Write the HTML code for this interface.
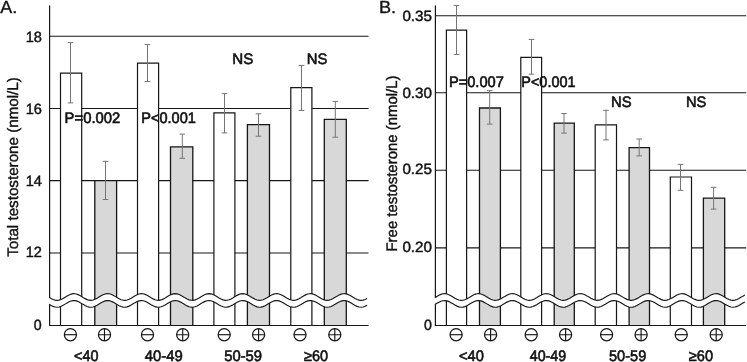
<!DOCTYPE html>
<html><head><meta charset="utf-8"><title>Figure</title>
<style>
html,body{margin:0;padding:0;background:#fff;}
svg{display:block;}
text{font-family:"Liberation Sans",Arial,Helvetica,sans-serif;font-size:15.2px;fill:#111;stroke:#111;stroke-width:0.6px;text-rendering:geometricPrecision;}
</style></head><body>
<svg width="747" height="362" viewBox="0 0 747 362">
<rect width="747" height="362" fill="#fff"/>
<g>
<line x1="49.6" y1="36.3" x2="368.5" y2="36.3" stroke="#161616" stroke-width="1.1"/>
<line x1="49.6" y1="108.5" x2="368.5" y2="108.5" stroke="#161616" stroke-width="1.1"/>
<line x1="49.6" y1="180.6" x2="368.5" y2="180.6" stroke="#161616" stroke-width="1.1"/>
<line x1="49.6" y1="253.0" x2="368.5" y2="253.0" stroke="#161616" stroke-width="1.1"/>
<path d="M60.5,325.5 V73.2 H81.7 V325.5" fill="#fff" stroke="#161616" stroke-width="1.2"/>
<path d="M94.8,325.5 V180.6 H116.6 V325.5" fill="#d8d8d8" stroke="#161616" stroke-width="1.3"/>
<path d="M137.5,325.5 V63.2 H158.6 V325.5" fill="#fff" stroke="#161616" stroke-width="1.2"/>
<path d="M170.5,325.5 V146.8 H192.8 V325.5" fill="#d8d8d8" stroke="#161616" stroke-width="1.3"/>
<path d="M213.9,325.5 V112.8 H234.9 V325.5" fill="#fff" stroke="#161616" stroke-width="1.2"/>
<path d="M247.4,325.5 V124.6 H269.5 V325.5" fill="#d8d8d8" stroke="#161616" stroke-width="1.3"/>
<path d="M290.8,325.5 V87.6 H311.9 V325.5" fill="#fff" stroke="#161616" stroke-width="1.2"/>
<path d="M324.3,325.5 V119.4 H346.3 V325.5" fill="#d8d8d8" stroke="#161616" stroke-width="1.3"/>
<path d="M70.5,42.6 V102.9 M67.7,42.6 H73.3 M67.7,102.9 H73.3" stroke="#747474" stroke-width="1" fill="none"/>
<path d="M105.5,161.3 V199.5 M102.7,161.3 H108.3 M102.7,199.5 H108.3" stroke="#747474" stroke-width="1" fill="none"/>
<path d="M147.5,44.6 V81.5 M144.7,44.6 H150.3 M144.7,81.5 H150.3" stroke="#747474" stroke-width="1" fill="none"/>
<path d="M182.3,134.1 V158.3 M179.5,134.1 H185.10000000000002 M179.5,158.3 H185.10000000000002" stroke="#747474" stroke-width="1" fill="none"/>
<path d="M224.5,93.6 V132.9 M221.7,93.6 H227.3 M221.7,132.9 H227.3" stroke="#747474" stroke-width="1" fill="none"/>
<path d="M258.5,113.8 V136.2 M255.7,113.8 H261.3 M255.7,136.2 H261.3" stroke="#747474" stroke-width="1" fill="none"/>
<path d="M301.5,65.4 V110.4 M298.7,65.4 H304.3 M298.7,110.4 H304.3" stroke="#747474" stroke-width="1" fill="none"/>
<path d="M335.3,101.4 V137.2 M332.5,101.4 H338.1 M332.5,137.2 H338.1" stroke="#747474" stroke-width="1" fill="none"/>
<path d="M48.6,297.02 L50.6,298.24 L52.6,299.28 L54.6,300.02 L56.6,300.34 L58.6,300.20 L60.6,299.63 L62.6,298.70 L64.6,297.53 L66.6,296.29 L68.6,295.15 L70.6,294.26 L72.6,293.75 L74.6,293.68 L76.6,294.06 L78.6,294.85 L80.6,295.93 L82.6,297.16 L84.6,298.36 L86.6,299.38 L88.6,300.08 L90.6,300.35 L92.6,300.16 L94.6,299.54 L96.6,298.58 L98.6,297.39 L100.6,296.16 L102.6,295.04 L104.6,294.18 L106.6,293.72 L108.6,293.70 L110.6,294.13 L112.6,294.96 L114.6,296.06 L116.6,297.30 L118.6,298.49 L120.6,299.48 L122.6,300.13 L124.6,300.35 L126.6,300.11 L128.6,299.45 L130.6,298.45 L132.6,297.26 L134.6,296.03 L136.6,294.93 L138.6,294.11 L140.6,293.69 L142.6,293.73 L144.6,294.21 L146.6,295.07 L148.6,296.19 L150.6,297.43 L152.6,298.61 L154.6,299.57 L156.6,300.17 L158.6,300.35 L160.6,300.06 L162.6,299.36 L164.6,298.33 L166.6,297.12 L168.6,295.90 L170.6,294.82 L172.6,294.05 L174.6,293.67 L176.6,293.76 L178.6,294.28 L180.6,295.18 L182.6,296.33 L184.6,297.57 L186.6,298.73 L188.6,299.65 L190.6,300.22 L192.6,300.34 L194.6,300.00 L196.6,299.26 L198.6,298.20 L200.6,296.98 L202.6,295.77 L204.6,294.72 L206.6,293.98 L208.6,293.66 L210.6,293.79 L212.6,294.37 L214.6,295.30 L216.6,296.46 L218.6,297.70 L220.6,298.84 L222.6,299.73 L224.6,300.25 L226.6,300.32 L228.6,299.94 L230.6,299.15 L232.6,298.07 L234.6,296.85 L236.6,295.64 L238.6,294.62 L240.6,293.93 L242.6,293.65 L244.6,293.84 L246.6,294.45 L248.6,295.42 L250.6,296.60 L252.6,297.84 L254.6,298.96 L256.6,299.81 L258.6,300.28 L260.6,300.30 L262.6,299.87 L264.6,299.05 L266.6,297.94 L268.6,296.71 L270.6,295.52 L272.6,294.53 L274.6,293.87 L276.6,293.65 L278.6,293.88 L280.6,294.54 L282.6,295.54 L284.6,296.74 L286.6,297.97 L288.6,299.07 L290.6,299.88 L292.6,300.31 L294.6,300.28 L296.6,299.80 L298.6,298.94 L300.6,297.81 L302.6,296.57 L304.6,295.40 L306.6,294.44 L308.6,293.83 L310.6,293.65 L312.6,293.94 L314.6,294.64 L316.6,295.66 L318.6,296.87 L320.6,298.10 L322.6,299.17 L324.6,299.95 L326.6,300.33 L328.6,300.24 L330.6,299.72 L332.6,298.82 L334.6,297.68 L336.6,296.44 L338.6,295.28 L340.6,294.35 L342.6,293.79 L344.6,293.66 L346.6,293.99 L348.6,294.74 L350.6,295.79 L352.6,297.01 L354.6,298.23 L356.6,299.28 L358.6,300.01 L360.6,300.34 L362.6,300.21 L364.6,299.64 L366.6,298.71 L368.6,297.54 L368.6,304.44 L366.6,305.61 L364.6,306.54 L362.6,307.11 L360.6,307.24 L358.6,306.91 L356.6,306.18 L354.6,305.13 L352.6,303.91 L350.6,302.69 L348.6,301.64 L346.6,300.89 L344.6,300.56 L342.6,300.69 L340.6,301.25 L338.6,302.18 L336.6,303.34 L334.6,304.58 L332.6,305.72 L330.6,306.62 L328.6,307.14 L326.6,307.23 L324.6,306.85 L322.6,306.07 L320.6,305.00 L318.6,303.77 L316.6,302.56 L314.6,301.54 L312.6,300.84 L310.6,300.55 L308.6,300.73 L306.6,301.34 L304.6,302.30 L302.6,303.47 L300.6,304.71 L298.6,305.84 L296.6,306.70 L294.6,307.18 L292.6,307.21 L290.6,306.78 L288.6,305.97 L286.6,304.87 L284.6,303.64 L282.6,302.44 L280.6,301.44 L278.6,300.78 L276.6,300.55 L274.6,300.77 L272.6,301.43 L270.6,302.42 L268.6,303.61 L266.6,304.84 L264.6,305.95 L262.6,306.77 L260.6,307.20 L258.6,307.18 L256.6,306.71 L254.6,305.86 L252.6,304.74 L250.6,303.50 L248.6,302.32 L246.6,301.35 L244.6,300.74 L242.6,300.55 L240.6,300.83 L238.6,301.52 L236.6,302.54 L234.6,303.75 L232.6,304.97 L230.6,306.05 L228.6,306.84 L226.6,307.22 L224.6,307.15 L222.6,306.63 L220.6,305.74 L218.6,304.60 L216.6,303.36 L214.6,302.20 L212.6,301.27 L210.6,300.69 L208.6,300.56 L206.6,300.88 L204.6,301.62 L202.6,302.67 L200.6,303.88 L198.6,305.10 L196.6,306.16 L194.6,306.90 L192.6,307.24 L190.6,307.12 L188.6,306.55 L186.6,305.63 L184.6,304.47 L182.6,303.23 L180.6,302.08 L178.6,301.18 L176.6,300.66 L174.6,300.57 L172.6,300.95 L170.6,301.72 L168.6,302.80 L166.6,304.02 L164.6,305.23 L162.6,306.26 L160.6,306.96 L158.6,307.25 L156.6,307.07 L154.6,306.47 L152.6,305.51 L150.6,304.33 L148.6,303.09 L146.6,301.97 L144.6,301.11 L142.6,300.63 L140.6,300.59 L138.6,301.01 L136.6,301.83 L134.6,302.93 L132.6,304.16 L130.6,305.35 L128.6,306.35 L126.6,307.01 L124.6,307.25 L122.6,307.03 L120.6,306.38 L118.6,305.39 L116.6,304.20 L114.6,302.96 L112.6,301.86 L110.6,301.03 L108.6,300.60 L106.6,300.62 L104.6,301.08 L102.6,301.94 L100.6,303.06 L98.6,304.29 L96.6,305.48 L94.6,306.44 L92.6,307.06 L90.6,307.25 L88.6,306.98 L86.6,306.28 L84.6,305.26 L82.6,304.06 L80.6,302.83 L78.6,301.75 L76.6,300.96 L74.6,300.58 L72.6,300.65 L70.6,301.16 L68.6,302.05 L66.6,303.19 L64.6,304.43 L62.6,305.60 L60.6,306.53 L58.6,307.10 L56.6,307.24 L54.6,306.92 L52.6,306.18 L50.6,305.14 L48.6,303.92Z" fill="#fff" stroke="none"/>
<path d="M49.1,297.33 L51.1,298.52 L53.1,299.50 L55.1,300.14 L57.1,300.35 L59.1,300.10 L61.1,299.43 L63.1,298.42 L65.1,297.22 L67.1,295.99 L69.1,294.90 L71.1,294.09 L73.1,293.69 L75.1,293.73 L77.1,294.23 L79.1,295.10 L81.1,296.23 L83.1,297.47 L85.1,298.64 L87.1,299.59 L89.1,300.19 L91.1,300.34 L93.1,300.05 L95.1,299.33 L97.1,298.30 L99.1,297.08 L101.1,295.86 L103.1,294.79 L105.1,294.03 L107.1,293.67 L109.1,293.77 L111.1,294.31 L113.1,295.21 L115.1,296.37 L117.1,297.60 L119.1,298.76 L121.1,299.68 L123.1,300.23 L125.1,300.33 L127.1,299.99 L129.1,299.23 L131.1,298.17 L133.1,296.95 L135.1,295.73 L137.1,294.69 L139.1,293.97 L141.1,293.66 L143.1,293.80 L145.1,294.39 L147.1,295.33 L149.1,296.50 L151.1,297.74 L153.1,298.88 L155.1,299.76 L157.1,300.26 L159.1,300.32 L161.1,299.92 L163.1,299.13 L165.1,298.04 L167.1,296.81 L169.1,295.61 L171.1,294.60 L173.1,293.91 L175.1,293.65 L177.1,293.85 L179.1,294.48 L181.1,295.45 L183.1,296.64 L185.1,297.87 L187.1,298.99 L189.1,299.83 L191.1,300.29 L193.1,300.30 L195.1,299.85 L197.1,299.02 L199.1,297.91 L201.1,296.67 L203.1,295.48 L205.1,294.50 L207.1,293.86 L209.1,293.65 L211.1,293.90 L213.1,294.57 L215.1,295.57 L217.1,296.77 L219.1,298.00 L221.1,299.10 L223.1,299.90 L225.1,300.31 L227.1,300.27 L229.1,299.78 L231.1,298.91 L233.1,297.77 L235.1,296.54 L237.1,295.36 L239.1,294.41 L241.1,293.82 L243.1,293.66 L245.1,293.95 L247.1,294.67 L249.1,295.70 L251.1,296.91 L253.1,298.13 L255.1,299.20 L257.1,299.97 L259.1,300.33 L261.1,300.24 L263.1,299.70 L265.1,298.79 L267.1,297.64 L269.1,296.40 L271.1,295.24 L273.1,294.33 L275.1,293.78 L277.1,293.67 L279.1,294.01 L281.1,294.77 L283.1,295.83 L285.1,297.05 L287.1,298.26 L289.1,299.30 L291.1,300.03 L293.1,300.34 L295.1,300.20 L297.1,299.61 L299.1,298.68 L301.1,297.51 L303.1,296.27 L305.1,295.13 L307.1,294.25 L309.1,293.74 L311.1,293.68 L313.1,294.08 L315.1,294.87 L317.1,295.96 L319.1,297.18 L321.1,298.39 L323.1,299.40 L325.1,300.09 L327.1,300.35 L329.1,300.15 L331.1,299.53 L333.1,298.55 L335.1,297.37 L337.1,296.13 L339.1,295.02 L341.1,294.17 L343.1,293.71 L345.1,293.70 L347.1,294.15 L349.1,294.98 L351.1,296.09 L353.1,297.32 L355.1,298.51 L357.1,299.49 L359.1,300.14 L361.1,300.35 L363.1,300.10 L365.1,299.44 L367.1,298.43" fill="none" stroke="#161616" stroke-width="1.15"/>
<path d="M49.1,304.23 L51.1,305.42 L53.1,306.40 L55.1,307.04 L57.1,307.25 L59.1,307.00 L61.1,306.33 L63.1,305.32 L65.1,304.12 L67.1,302.89 L69.1,301.80 L71.1,300.99 L73.1,300.59 L75.1,300.63 L77.1,301.13 L79.1,302.00 L81.1,303.13 L83.1,304.37 L85.1,305.54 L87.1,306.49 L89.1,307.09 L91.1,307.24 L93.1,306.95 L95.1,306.23 L97.1,305.20 L99.1,303.98 L101.1,302.76 L103.1,301.69 L105.1,300.93 L107.1,300.57 L109.1,300.67 L111.1,301.21 L113.1,302.11 L115.1,303.27 L117.1,304.50 L119.1,305.66 L121.1,306.58 L123.1,307.13 L125.1,307.23 L127.1,306.89 L129.1,306.13 L131.1,305.07 L133.1,303.85 L135.1,302.63 L137.1,301.59 L139.1,300.87 L141.1,300.56 L143.1,300.70 L145.1,301.29 L147.1,302.23 L149.1,303.40 L151.1,304.64 L153.1,305.78 L155.1,306.66 L157.1,307.16 L159.1,307.22 L161.1,306.82 L163.1,306.03 L165.1,304.94 L167.1,303.71 L169.1,302.51 L171.1,301.50 L173.1,300.81 L175.1,300.55 L177.1,300.75 L179.1,301.38 L181.1,302.35 L183.1,303.54 L185.1,304.77 L187.1,305.89 L189.1,306.73 L191.1,307.19 L193.1,307.20 L195.1,306.75 L197.1,305.92 L199.1,304.81 L201.1,303.57 L203.1,302.38 L205.1,301.40 L207.1,300.76 L209.1,300.55 L211.1,300.80 L213.1,301.47 L215.1,302.47 L217.1,303.67 L219.1,304.90 L221.1,306.00 L223.1,306.80 L225.1,307.21 L227.1,307.17 L229.1,306.68 L231.1,305.81 L233.1,304.67 L235.1,303.44 L237.1,302.26 L239.1,301.31 L241.1,300.72 L243.1,300.56 L245.1,300.85 L247.1,301.57 L249.1,302.60 L251.1,303.81 L253.1,305.03 L255.1,306.10 L257.1,306.87 L259.1,307.23 L261.1,307.14 L263.1,306.60 L265.1,305.69 L267.1,304.54 L269.1,303.30 L271.1,302.14 L273.1,301.23 L275.1,300.68 L277.1,300.57 L279.1,300.91 L281.1,301.67 L283.1,302.73 L285.1,303.95 L287.1,305.16 L289.1,306.20 L291.1,306.93 L293.1,307.24 L295.1,307.10 L297.1,306.51 L299.1,305.57 L301.1,304.41 L303.1,303.17 L305.1,302.03 L307.1,301.15 L309.1,300.64 L311.1,300.58 L313.1,300.98 L315.1,301.77 L317.1,302.86 L319.1,304.08 L321.1,305.29 L323.1,306.30 L325.1,306.99 L327.1,307.25 L329.1,307.05 L331.1,306.43 L333.1,305.45 L335.1,304.27 L337.1,303.03 L339.1,301.92 L341.1,301.07 L343.1,300.61 L345.1,300.60 L347.1,301.05 L349.1,301.88 L351.1,302.99 L353.1,304.22 L355.1,305.41 L357.1,306.39 L359.1,307.04 L361.1,307.25 L363.1,307.00 L365.1,306.34 L367.1,305.33" fill="none" stroke="#161616" stroke-width="1.15"/>
<path d="M49.6,5.5 V297.64 M49.6,304.54 V325.5" stroke="#161616" stroke-width="1.2" fill="none"/>
<line x1="49.1" y1="325.5" x2="368.5" y2="325.5" stroke="#161616" stroke-width="1"/>
<text x="0.3" y="12.7" style="font-size:17.4px;stroke-width:0.35px" textLength="16.9" lengthAdjust="spacingAndGlyphs">A.</text>
<text x="64.6" y="123.3" textLength="55.8" lengthAdjust="spacingAndGlyphs">P=0.002</text>
<text x="141.3" y="123.3" textLength="54.6" lengthAdjust="spacingAndGlyphs">P&lt;0.001</text>
<text x="232.3" y="63.5" textLength="21.0" lengthAdjust="spacingAndGlyphs">NS</text>
<text x="306.8" y="63.5" textLength="20.6" lengthAdjust="spacingAndGlyphs">NS</text>
<text x="74.1" y="361.1" textLength="24.4" lengthAdjust="spacingAndGlyphs">&lt;40</text>
<text x="144.7" y="361.1" textLength="38.0" lengthAdjust="spacingAndGlyphs">40-49</text>
<text x="224.2" y="361.1" textLength="37.9" lengthAdjust="spacingAndGlyphs">50-59</text>
<text x="304.1" y="361.1" textLength="24.1" lengthAdjust="spacingAndGlyphs">≥60</text>
<text x="25.7" y="42.4" style="font-size:14.9px;stroke-width:0.45px" textLength="16.2" lengthAdjust="spacingAndGlyphs">18</text>
<text x="25.7" y="114.1" style="font-size:14.9px;stroke-width:0.45px" textLength="16.2" lengthAdjust="spacingAndGlyphs">16</text>
<text x="25.7" y="185.5" style="font-size:14.9px;stroke-width:0.45px" textLength="16.2" lengthAdjust="spacingAndGlyphs">14</text>
<text x="25.7" y="257.3" style="font-size:14.9px;stroke-width:0.45px" textLength="16.2" lengthAdjust="spacingAndGlyphs">12</text>
<text x="33.7" y="329.7" style="font-size:14.9px;stroke-width:0.45px" textLength="7.9" lengthAdjust="spacingAndGlyphs">0</text>
<text transform="translate(17.5,256.8) rotate(-90)" x="0" y="0" style="stroke-width:0.4px" textLength="179.6" lengthAdjust="spacingAndGlyphs">Total testosterone (nmol/L)</text>
<circle cx="70.4" cy="334.7" r="6.05" fill="none" stroke="#161616" stroke-width="1.25"/><path d="M64.35000000000001,334.7 H76.45" stroke="#161616" stroke-width="1.15" fill="none"/>
<circle cx="104.5" cy="334.7" r="6.05" fill="none" stroke="#161616" stroke-width="1.25"/><path d="M98.45,334.7 H110.55 M104.5,328.65 V340.75" stroke="#161616" stroke-width="1.15" fill="none"/>
<circle cx="147.5" cy="334.7" r="6.05" fill="none" stroke="#161616" stroke-width="1.25"/><path d="M141.45,334.7 H153.55" stroke="#161616" stroke-width="1.15" fill="none"/>
<circle cx="182.7" cy="334.7" r="6.05" fill="none" stroke="#161616" stroke-width="1.25"/><path d="M176.64999999999998,334.7 H188.75 M182.7,328.65 V340.75" stroke="#161616" stroke-width="1.15" fill="none"/>
<circle cx="224.2" cy="334.7" r="6.05" fill="none" stroke="#161616" stroke-width="1.25"/><path d="M218.14999999999998,334.7 H230.25" stroke="#161616" stroke-width="1.15" fill="none"/>
<circle cx="258.6" cy="334.7" r="6.05" fill="none" stroke="#161616" stroke-width="1.25"/><path d="M252.55,334.7 H264.65000000000003 M258.6,328.65 V340.75" stroke="#161616" stroke-width="1.15" fill="none"/>
<circle cx="300" cy="334.7" r="6.05" fill="none" stroke="#161616" stroke-width="1.25"/><path d="M293.95,334.7 H306.05" stroke="#161616" stroke-width="1.15" fill="none"/>
<circle cx="334.8" cy="334.7" r="6.05" fill="none" stroke="#161616" stroke-width="1.25"/><path d="M328.75,334.7 H340.85 M334.8,328.65 V340.75" stroke="#161616" stroke-width="1.15" fill="none"/>
</g>
<g>
<line x1="435.4" y1="15.8" x2="746.2" y2="15.8" stroke="#161616" stroke-width="1.1"/>
<line x1="435.4" y1="92.7" x2="746.2" y2="92.7" stroke="#161616" stroke-width="1.1"/>
<line x1="435.4" y1="170.2" x2="746.2" y2="170.2" stroke="#161616" stroke-width="1.1"/>
<line x1="435.4" y1="247.9" x2="746.2" y2="247.9" stroke="#161616" stroke-width="1.1"/>
<path d="M446.4,325.5 V30.2 H466.6 V325.5" fill="#fff" stroke="#161616" stroke-width="1.2"/>
<path d="M479.5,325.5 V108.0 H500.4 V325.5" fill="#d8d8d8" stroke="#161616" stroke-width="1.3"/>
<path d="M520.8,325.5 V57.3 H541.6 V325.5" fill="#fff" stroke="#161616" stroke-width="1.2"/>
<path d="M554.2,325.5 V123.1 H574.3 V325.5" fill="#d8d8d8" stroke="#161616" stroke-width="1.3"/>
<path d="M595.2,325.5 V124.8 H616.5 V325.5" fill="#fff" stroke="#161616" stroke-width="1.2"/>
<path d="M629.1,325.5 V147.6 H649.5 V325.5" fill="#d8d8d8" stroke="#161616" stroke-width="1.3"/>
<path d="M670.3,325.5 V177.0 H691.5 V325.5" fill="#fff" stroke="#161616" stroke-width="1.2"/>
<path d="M703.4,325.5 V198.1 H724.7 V325.5" fill="#d8d8d8" stroke="#161616" stroke-width="1.3"/>
<path d="M456.5,5.5 V54.5 M453.7,5.5 H459.3 M453.7,54.5 H459.3" stroke="#747474" stroke-width="1" fill="none"/>
<path d="M489.7,90.7 V124.1 M486.9,90.7 H492.5 M486.9,124.1 H492.5" stroke="#747474" stroke-width="1" fill="none"/>
<path d="M531.5,39.4 V74.2 M528.7,39.4 H534.3 M528.7,74.2 H534.3" stroke="#747474" stroke-width="1" fill="none"/>
<path d="M564,113.5 V133.1 M561.2,113.5 H566.8 M561.2,133.1 H566.8" stroke="#747474" stroke-width="1" fill="none"/>
<path d="M606,110.3 V139.9 M603.2,110.3 H608.8 M603.2,139.9 H608.8" stroke="#747474" stroke-width="1" fill="none"/>
<path d="M639.2,139 V155.9 M636.4000000000001,139 H642.0 M636.4000000000001,155.9 H642.0" stroke="#747474" stroke-width="1" fill="none"/>
<path d="M680.5,164.4 V190.3 M677.7,164.4 H683.3 M677.7,190.3 H683.3" stroke="#747474" stroke-width="1" fill="none"/>
<path d="M713.6,187.3 V209.1 M710.8000000000001,187.3 H716.4 M710.8000000000001,209.1 H716.4" stroke="#747474" stroke-width="1" fill="none"/>
<path d="M434.4,297.99 L436.4,296.76 L438.4,295.57 L440.4,294.57 L442.4,293.90 L444.4,293.65 L446.4,293.86 L448.4,294.49 L450.4,295.46 L452.4,296.64 L454.4,297.87 L456.4,298.98 L458.4,299.82 L460.4,300.28 L462.4,300.30 L464.4,299.87 L466.4,299.05 L468.4,297.95 L470.4,296.72 L472.4,295.53 L474.4,294.54 L476.4,293.89 L478.4,293.65 L480.4,293.87 L482.4,294.51 L484.4,295.49 L486.4,296.67 L488.4,297.90 L490.4,299.01 L492.4,299.84 L494.4,300.29 L496.4,300.29 L498.4,299.85 L500.4,299.02 L502.4,297.92 L504.4,296.69 L506.4,295.50 L508.4,294.52 L510.4,293.87 L512.4,293.65 L514.4,293.88 L516.4,294.54 L518.4,295.52 L520.4,296.71 L522.4,297.94 L524.4,299.04 L526.4,299.86 L528.4,300.30 L530.4,300.29 L532.4,299.83 L534.4,298.99 L536.4,297.88 L538.4,296.65 L540.4,295.47 L542.4,294.49 L544.4,293.86 L546.4,293.65 L548.4,293.90 L550.4,294.56 L552.4,295.56 L554.4,296.75 L556.4,297.97 L558.4,299.07 L560.4,299.88 L562.4,300.30 L564.4,300.28 L566.4,299.81 L568.4,298.96 L570.4,297.84 L572.4,296.61 L574.4,295.44 L576.4,294.47 L578.4,293.85 L580.4,293.65 L582.4,293.91 L584.4,294.59 L586.4,295.59 L588.4,296.79 L590.4,298.01 L592.4,299.10 L594.4,299.90 L596.4,300.31 L598.4,300.27 L600.4,299.79 L602.4,298.93 L604.4,297.81 L606.4,296.58 L608.4,295.40 L610.4,294.45 L612.4,293.83 L614.4,293.65 L616.4,293.92 L618.4,294.61 L620.4,295.62 L622.4,296.82 L624.4,298.05 L626.4,299.13 L628.4,299.92 L630.4,300.32 L632.4,300.26 L634.4,299.77 L636.4,298.90 L638.4,297.77 L640.4,296.54 L642.4,295.37 L644.4,294.42 L646.4,293.82 L648.4,293.65 L650.4,293.94 L652.4,294.64 L654.4,295.66 L656.4,296.86 L658.4,298.08 L660.4,299.16 L662.4,299.94 L664.4,300.32 L666.4,300.25 L668.4,299.75 L670.4,298.87 L672.4,297.74 L674.4,296.50 L676.4,295.34 L678.4,294.40 L680.4,293.81 L682.4,293.66 L684.4,293.95 L686.4,294.67 L688.4,295.69 L690.4,296.90 L692.4,298.12 L694.4,299.18 L696.4,299.95 L698.4,300.33 L700.4,300.25 L702.4,299.73 L704.4,298.84 L706.4,297.70 L708.4,296.47 L710.4,295.31 L712.4,294.37 L714.4,293.80 L716.4,293.66 L718.4,293.97 L720.4,294.69 L722.4,295.73 L724.4,296.93 L726.4,298.15 L728.4,299.21 L730.4,299.97 L732.4,300.33 L734.4,300.24 L736.4,299.70 L738.4,298.81 L740.4,297.66 L742.4,296.43 L744.4,295.27 L746.4,294.35 L746.4,301.25 L744.4,302.17 L742.4,303.33 L740.4,304.56 L738.4,305.71 L736.4,306.60 L734.4,307.14 L732.4,307.23 L730.4,306.87 L728.4,306.11 L726.4,305.05 L724.4,303.83 L722.4,302.63 L720.4,301.59 L718.4,300.87 L716.4,300.56 L714.4,300.70 L712.4,301.27 L710.4,302.21 L708.4,303.37 L706.4,304.60 L704.4,305.74 L702.4,306.63 L700.4,307.15 L698.4,307.23 L696.4,306.85 L694.4,306.08 L692.4,305.02 L690.4,303.80 L688.4,302.59 L686.4,301.57 L684.4,300.85 L682.4,300.56 L680.4,300.71 L678.4,301.30 L676.4,302.24 L674.4,303.40 L672.4,304.64 L670.4,305.77 L668.4,306.65 L666.4,307.15 L664.4,307.22 L662.4,306.84 L660.4,306.06 L658.4,304.98 L656.4,303.76 L654.4,302.56 L652.4,301.54 L650.4,300.84 L648.4,300.55 L646.4,300.72 L644.4,301.32 L642.4,302.27 L640.4,303.44 L638.4,304.67 L636.4,305.80 L634.4,306.67 L632.4,307.16 L630.4,307.22 L628.4,306.82 L626.4,306.03 L624.4,304.95 L622.4,303.72 L620.4,302.52 L618.4,301.51 L616.4,300.82 L614.4,300.55 L612.4,300.73 L610.4,301.35 L608.4,302.30 L606.4,303.48 L604.4,304.71 L602.4,305.83 L600.4,306.69 L598.4,307.17 L596.4,307.21 L594.4,306.80 L592.4,306.00 L590.4,304.91 L588.4,303.69 L586.4,302.49 L584.4,301.49 L582.4,300.81 L580.4,300.55 L578.4,300.75 L576.4,301.37 L574.4,302.34 L572.4,303.51 L570.4,304.74 L568.4,305.86 L566.4,306.71 L564.4,307.18 L562.4,307.20 L560.4,306.78 L558.4,305.97 L556.4,304.87 L554.4,303.65 L552.4,302.46 L550.4,301.46 L548.4,300.80 L546.4,300.55 L544.4,300.76 L542.4,301.39 L540.4,302.37 L538.4,303.55 L536.4,304.78 L534.4,305.89 L532.4,306.73 L530.4,307.19 L528.4,307.20 L526.4,306.76 L524.4,305.94 L522.4,304.84 L520.4,303.61 L518.4,302.42 L516.4,301.44 L514.4,300.78 L512.4,300.55 L510.4,300.77 L508.4,301.42 L506.4,302.40 L504.4,303.59 L502.4,304.82 L500.4,305.92 L498.4,306.75 L496.4,307.19 L494.4,307.19 L492.4,306.74 L490.4,305.91 L488.4,304.80 L486.4,303.57 L484.4,302.39 L482.4,301.41 L480.4,300.77 L478.4,300.55 L476.4,300.79 L474.4,301.44 L472.4,302.43 L470.4,303.62 L468.4,304.85 L466.4,305.95 L464.4,306.77 L462.4,307.20 L460.4,307.18 L458.4,306.72 L456.4,305.88 L454.4,304.77 L452.4,303.54 L450.4,302.36 L448.4,301.39 L446.4,300.76 L444.4,300.55 L442.4,300.80 L440.4,301.47 L438.4,302.47 L436.4,303.66 L434.4,304.89Z" fill="#fff" stroke="none"/>
<path d="M434.9,297.69 L436.9,296.45 L438.9,295.29 L440.9,294.37 L442.9,293.80 L444.9,293.66 L446.9,293.98 L448.9,294.70 L450.9,295.74 L452.9,296.95 L454.9,298.16 L456.9,299.22 L458.9,299.98 L460.9,300.33 L462.9,300.23 L464.9,299.70 L466.9,298.80 L468.9,297.65 L470.9,296.42 L472.9,295.26 L474.9,294.34 L476.9,293.79 L478.9,293.66 L480.9,293.99 L482.9,294.73 L484.9,295.77 L486.9,296.98 L488.9,298.20 L490.9,299.25 L492.9,299.99 L494.9,300.34 L496.9,300.22 L498.9,299.67 L500.9,298.76 L502.9,297.61 L504.9,296.38 L506.9,295.23 L508.9,294.32 L510.9,293.77 L512.9,293.67 L514.9,294.01 L516.9,294.76 L518.9,295.81 L520.9,297.02 L522.9,298.23 L524.9,299.28 L526.9,300.01 L528.9,300.34 L530.9,300.21 L532.9,299.65 L534.9,298.73 L536.9,297.58 L538.9,296.34 L540.9,295.20 L542.9,294.30 L544.9,293.77 L546.9,293.67 L548.9,294.02 L550.9,294.78 L552.9,295.84 L554.9,297.06 L556.9,298.27 L558.9,299.30 L560.9,300.03 L562.9,300.34 L564.9,300.20 L566.9,299.63 L568.9,298.70 L570.9,297.54 L572.9,296.31 L574.9,295.17 L576.9,294.28 L578.9,293.76 L580.9,293.67 L582.9,294.04 L584.9,294.81 L586.9,295.88 L588.9,297.10 L590.9,298.30 L592.9,299.33 L594.9,300.04 L596.9,300.34 L598.9,300.19 L600.9,299.61 L602.9,298.67 L604.9,297.50 L606.9,296.27 L608.9,295.14 L610.9,294.26 L612.9,293.75 L614.9,293.68 L616.9,294.06 L618.9,294.84 L620.9,295.91 L622.9,297.13 L624.9,298.34 L626.9,299.36 L628.9,300.06 L630.9,300.35 L632.9,300.18 L634.9,299.58 L636.9,298.64 L638.9,297.47 L640.9,296.23 L642.9,295.11 L644.9,294.23 L646.9,293.74 L648.9,293.68 L650.9,294.08 L652.9,294.87 L654.9,295.95 L656.9,297.17 L658.9,298.37 L660.9,299.38 L662.9,300.07 L664.9,300.35 L666.9,300.17 L668.9,299.56 L670.9,298.60 L672.9,297.43 L674.9,296.20 L676.9,295.08 L678.9,294.21 L680.9,293.73 L682.9,293.69 L684.9,294.10 L686.9,294.90 L688.9,295.98 L690.9,297.21 L692.9,298.40 L694.9,299.41 L696.9,300.09 L698.9,300.35 L700.9,300.16 L702.9,299.53 L704.9,298.57 L706.9,297.39 L708.9,296.16 L710.9,295.05 L712.9,294.19 L714.9,293.72 L716.9,293.69 L718.9,294.11 L720.9,294.93 L722.9,296.02 L724.9,297.24 L726.9,298.44 L728.9,299.43 L730.9,300.10 L732.9,300.35 L734.9,300.14 L736.9,299.51 L738.9,298.54 L740.9,297.36 L742.9,296.13 L744.9,295.02" fill="none" stroke="#161616" stroke-width="1.15"/>
<path d="M434.9,304.59 L436.9,303.35 L438.9,302.19 L440.9,301.27 L442.9,300.70 L444.9,300.56 L446.9,300.88 L448.9,301.60 L450.9,302.64 L452.9,303.85 L454.9,305.06 L456.9,306.12 L458.9,306.88 L460.9,307.23 L462.9,307.13 L464.9,306.60 L466.9,305.70 L468.9,304.55 L470.9,303.32 L472.9,302.16 L474.9,301.24 L476.9,300.69 L478.9,300.56 L480.9,300.89 L482.9,301.63 L484.9,302.67 L486.9,303.88 L488.9,305.10 L490.9,306.15 L492.9,306.89 L494.9,307.24 L496.9,307.12 L498.9,306.57 L500.9,305.66 L502.9,304.51 L504.9,303.28 L506.9,302.13 L508.9,301.22 L510.9,300.67 L512.9,300.57 L514.9,300.91 L516.9,301.66 L518.9,302.71 L520.9,303.92 L522.9,305.13 L524.9,306.18 L526.9,306.91 L528.9,307.24 L530.9,307.11 L532.9,306.55 L534.9,305.63 L536.9,304.48 L538.9,303.24 L540.9,302.10 L542.9,301.20 L544.9,300.67 L546.9,300.57 L548.9,300.92 L550.9,301.68 L552.9,302.74 L554.9,303.96 L556.9,305.17 L558.9,306.20 L560.9,306.93 L562.9,307.24 L564.9,307.10 L566.9,306.53 L568.9,305.60 L570.9,304.44 L572.9,303.21 L574.9,302.07 L576.9,301.18 L578.9,300.66 L580.9,300.57 L582.9,300.94 L584.9,301.71 L586.9,302.78 L588.9,304.00 L590.9,305.20 L592.9,306.23 L594.9,306.94 L596.9,307.24 L598.9,307.09 L600.9,306.51 L602.9,305.57 L604.9,304.40 L606.9,303.17 L608.9,302.04 L610.9,301.16 L612.9,300.65 L614.9,300.58 L616.9,300.96 L618.9,301.74 L620.9,302.81 L622.9,304.03 L624.9,305.24 L626.9,306.26 L628.9,306.96 L630.9,307.25 L632.9,307.08 L634.9,306.48 L636.9,305.54 L638.9,304.37 L640.9,303.13 L642.9,302.01 L644.9,301.13 L646.9,300.64 L648.9,300.58 L650.9,300.98 L652.9,301.77 L654.9,302.85 L656.9,304.07 L658.9,305.27 L660.9,306.28 L662.9,306.97 L664.9,307.25 L666.9,307.07 L668.9,306.46 L670.9,305.50 L672.9,304.33 L674.9,303.10 L676.9,301.98 L678.9,301.11 L680.9,300.63 L682.9,300.59 L684.9,301.00 L686.9,301.80 L688.9,302.88 L690.9,304.11 L692.9,305.30 L694.9,306.31 L696.9,306.99 L698.9,307.25 L700.9,307.06 L702.9,306.43 L704.9,305.47 L706.9,304.29 L708.9,303.06 L710.9,301.95 L712.9,301.09 L714.9,300.62 L716.9,300.59 L718.9,301.01 L720.9,301.83 L722.9,302.92 L724.9,304.14 L726.9,305.34 L728.9,306.33 L730.9,307.00 L732.9,307.25 L734.9,307.04 L736.9,306.41 L738.9,305.44 L740.9,304.26 L742.9,303.03 L744.9,301.92" fill="none" stroke="#161616" stroke-width="1.15"/>
<path d="M435.4,5.5 V297.38 M435.4,304.28 V325.5" stroke="#161616" stroke-width="1.2" fill="none"/>
<line x1="434.9" y1="325.5" x2="746.2" y2="325.5" stroke="#161616" stroke-width="1"/>
<text x="379.0" y="12.7" style="font-size:17.4px;stroke-width:0.35px" textLength="17.1" lengthAdjust="spacingAndGlyphs">B.</text>
<text x="448.9" y="87.4" textLength="55.0" lengthAdjust="spacingAndGlyphs">P=0.007</text>
<text x="521.3" y="87.4" textLength="54.2" lengthAdjust="spacingAndGlyphs">P&lt;0.001</text>
<text x="611.0" y="106.5" textLength="20.6" lengthAdjust="spacingAndGlyphs">NS</text>
<text x="685.9" y="106.5" textLength="20.3" lengthAdjust="spacingAndGlyphs">NS</text>
<text x="458.9" y="361.1" textLength="24.9" lengthAdjust="spacingAndGlyphs">&lt;40</text>
<text x="529.8" y="361.1" textLength="36.4" lengthAdjust="spacingAndGlyphs">40-49</text>
<text x="609.0" y="361.1" textLength="37.3" lengthAdjust="spacingAndGlyphs">50-59</text>
<text x="688.8" y="361.1" textLength="24.2" lengthAdjust="spacingAndGlyphs">≥60</text>
<text x="402.4" y="21.4" style="font-size:14.9px;stroke-width:0.45px" textLength="29.6" lengthAdjust="spacingAndGlyphs">0.35</text>
<text x="402.4" y="97.7" style="font-size:14.9px;stroke-width:0.45px" textLength="29.6" lengthAdjust="spacingAndGlyphs">0.30</text>
<text x="402.4" y="174.4" style="font-size:14.9px;stroke-width:0.45px" textLength="29.6" lengthAdjust="spacingAndGlyphs">0.25</text>
<text x="402.4" y="251.6" style="font-size:14.9px;stroke-width:0.45px" textLength="29.6" lengthAdjust="spacingAndGlyphs">0.20</text>
<text x="424.1" y="329.7" style="font-size:14.9px;stroke-width:0.45px" textLength="7.9" lengthAdjust="spacingAndGlyphs">0</text>
<text transform="translate(396.6,251.5) rotate(-90)" x="0" y="0" style="stroke-width:0.4px" textLength="176" lengthAdjust="spacingAndGlyphs">Free testosterone (nmol/L)</text>
<circle cx="456.1" cy="334.7" r="6.05" fill="none" stroke="#161616" stroke-width="1.25"/><path d="M450.05,334.7 H462.15000000000003" stroke="#161616" stroke-width="1.15" fill="none"/>
<circle cx="490.6" cy="334.7" r="6.05" fill="none" stroke="#161616" stroke-width="1.25"/><path d="M484.55,334.7 H496.65000000000003 M490.6,328.65 V340.75" stroke="#161616" stroke-width="1.15" fill="none"/>
<circle cx="531.2" cy="334.7" r="6.05" fill="none" stroke="#161616" stroke-width="1.25"/><path d="M525.1500000000001,334.7 H537.25" stroke="#161616" stroke-width="1.15" fill="none"/>
<circle cx="565.6" cy="334.7" r="6.05" fill="none" stroke="#161616" stroke-width="1.25"/><path d="M559.5500000000001,334.7 H571.65 M565.6,328.65 V340.75" stroke="#161616" stroke-width="1.15" fill="none"/>
<circle cx="606.6" cy="334.7" r="6.05" fill="none" stroke="#161616" stroke-width="1.25"/><path d="M600.5500000000001,334.7 H612.65" stroke="#161616" stroke-width="1.15" fill="none"/>
<circle cx="641.1" cy="334.7" r="6.05" fill="none" stroke="#161616" stroke-width="1.25"/><path d="M635.0500000000001,334.7 H647.15 M641.1,328.65 V340.75" stroke="#161616" stroke-width="1.15" fill="none"/>
<circle cx="681.2" cy="334.7" r="6.05" fill="none" stroke="#161616" stroke-width="1.25"/><path d="M675.1500000000001,334.7 H687.25" stroke="#161616" stroke-width="1.15" fill="none"/>
<circle cx="716.2" cy="334.7" r="6.05" fill="none" stroke="#161616" stroke-width="1.25"/><path d="M710.1500000000001,334.7 H722.25 M716.2,328.65 V340.75" stroke="#161616" stroke-width="1.15" fill="none"/>
</g>
</svg>
</body></html>
